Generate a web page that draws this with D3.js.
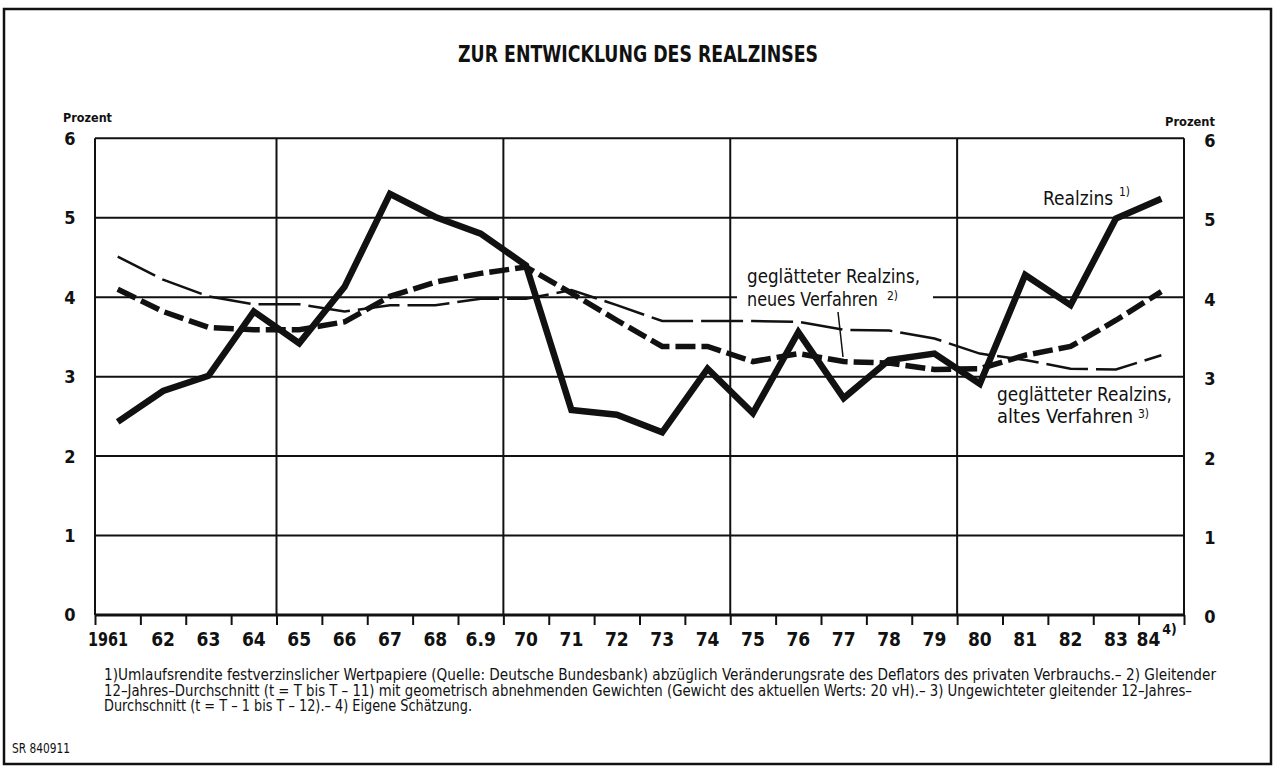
<!DOCTYPE html>
<html>
<head>
<meta charset="utf-8">
<script src="https://cdn.jsdelivr.net/npm/d3@7"></script>
<style>
  body { margin: 0; background: #fff; }
  svg { display: block; }
  text { font-family: "Liberation Sans Narrow", "DejaVu Sans Condensed", "Arial Narrow", sans-serif; fill: #111; }
</style>
</head>
<body>
<div id="chart"></div>
<script>
const years = [1961, 1962, 1963, 1964, 1965, 1966, 1967, 1968, 1969, 1970, 1971, 1972,
               1973, 1974, 1975, 1976, 1977, 1978, 1979, 1980, 1981, 1982, 1983, 1984];
const yearLabels = ["1961", "62", "63", "64", "65", "66", "67", "68", "6.9", "70", "71", "72",
                    "73", "74", "75", "76", "77", "78", "79", "80", "81", "82", "83", "84"];
const realzins = [2.43, 2.82, 3.01, 3.82, 3.42, 4.13, 5.30, 5.01, 4.80, 4.40, 2.58, 2.52,
                  2.30, 3.10, 2.54, 3.56, 2.73, 3.21, 3.29, 2.91, 4.28, 3.90, 4.99, 5.24];
const neuesVerfahren = [4.10, 3.82, 3.62, 3.59, 3.59, 3.69, 4.01, 4.19, 4.30, 4.38, 4.05, 3.71,
                        3.38, 3.38, 3.19, 3.29, 3.19, 3.17, 3.09, 3.10, 3.27, 3.38, 3.71, 4.07];
const altesVerfahren = [4.51, 4.22, 4.01, 3.91, 3.91, 3.82, 3.90, 3.90, 3.98, 3.98, 4.09, 3.90,
                        3.70, 3.70, 3.70, 3.69, 3.59, 3.58, 3.48, 3.29, 3.21, 3.10, 3.09, 3.27];
const yTicks = [0, 1, 2, 3, 4, 5, 6];
const gridYears = [1965, 1970, 1975, 1980];
const footnotes = [
  "1)Umlaufsrendite festverzinslicher Wertpapiere (Quelle: Deutsche Bundesbank) abzüglich Veränderungsrate des Deflators des privaten Verbrauchs.– 2) Gleitender",
  "12–Jahres–Durchschnitt (t = T bis T – 11) mit geometrisch abnehmenden Gewichten (Gewicht des aktuellen Werts: 20 vH).– 3) Ungewichteter gleitender 12–Jahres–",
  "Durchschnitt (t = T – 1 bis T – 12).– 4) Eigene Schätzung."
];

const W = 1274, H = 768;
const svg = d3.select("#chart").append("svg").attr("width", W).attr("height", H);

// squeeze or stretch a text to the width measured on the original
function fit(sel, w) {
  const l = sel.node().getComputedTextLength();
  if (Math.abs(l - w) > 1) sel.attr("textLength", w).attr("lengthAdjust", "spacingAndGlyphs");
  return sel;
}

svg.append("rect")
  .attr("x", 4).attr("y", 9).attr("width", 1267).attr("height", 755)
  .attr("fill", "none").attr("stroke", "#111").attr("stroke-width", 2.5);

fit(svg.append("text")
  .attr("x", 458).attr("y", 62)
  .style("font-size", "23px").style("font-weight", "bold")
  .text("ZUR ENTWICKLUNG DES REALZINSES"), 360);

const x = d3.scaleLinear().domain([1961, 1985]).range([95, 1184]);
const y = d3.scaleLinear().domain([0, 6]).range([615, 138.3]);
const mid = yr => x(yr + 0.5);

// grid
const grid = svg.append("g").attr("stroke", "#111").attr("stroke-width", 2);
grid.selectAll(".hg").data(yTicks.filter(d => d > 0)).enter().append("line")
  .attr("x1", x(1961)).attr("x2", x(1985))
  .attr("y1", d => y(d)).attr("y2", d => y(d));
grid.selectAll(".vg").data([1961, ...gridYears, 1985]).enter().append("line")
  .attr("x1", d => x(d)).attr("x2", d => x(d))
  .attr("y1", y(0)).attr("y2", y(6));

// x axis, ticks on year boundaries
const xAxis = d3.axisBottom(x)
  .tickValues([1961].concat(years.slice(1), [1985]))
  .tickSize(10).tickFormat("");
svg.append("g").attr("transform", `translate(0,${y(0)})`).call(xAxis)
  .call(g => g.select(".domain").attr("stroke", "#111").attr("stroke-width", 3).attr("d", `M${x(1961)},0H${x(1985)}`))
  .call(g => g.selectAll(".tick line").attr("stroke", "#111").attr("stroke-width", 2));

const xl = svg.append("g").style("font-size", "19px").style("font-weight", "bold");
years.forEach((yr, i) => {
  const t = xl.append("text").attr("y", 646).text(yearLabels[i]);
  if (i === 0) {
    t.attr("x", x(yr) - 7);
    fit(t, 40);
  } else if (i === years.length - 1) {
    t.attr("x", mid(yr) - 1).attr("text-anchor", "end");
    xl.append("text").attr("x", mid(yr) + 1).attr("y", 634)
      .style("font-size", "14px").text("4)");
  } else {
    t.attr("x", mid(yr)).attr("text-anchor", "middle");
  }
});

// y labels on both sides
const yl = svg.append("g").style("font-size", "18px").style("font-weight", "bold").attr("text-anchor", "middle");
yl.selectAll(".l").data(yTicks).enter().append("text")
  .attr("x", 70).attr("y", d => y(d)).attr("dy", "0.36em").text(d => d);
yl.selectAll(".r").data(yTicks).enter().append("text")
  .attr("x", 1210).attr("y", d => y(d) + 2).attr("dy", "0.36em").text(d => d);

fit(svg.append("text").attr("x", 63).attr("y", 122)
  .style("font-size", "13px").style("font-weight", "bold").text("Prozent"), 49);
fit(svg.append("text").attr("x", 1165).attr("y", 126)
  .style("font-size", "13px").style("font-weight", "bold").text("Prozent"), 50);

// white patch behind the label of the new method
svg.append("rect").attr("x", 737).attr("y", 266).attr("width", 196).attr("height", 46).attr("fill", "#fff");

const line = d3.line().x((d, i) => mid(years[i])).y(d => y(d));

svg.append("path").datum(altesVerfahren)
  .attr("d", line).attr("fill", "none").attr("stroke", "#111")
  .attr("stroke-width", 2.5).attr("stroke-dasharray", "42,8");
svg.append("path").datum(neuesVerfahren)
  .attr("d", line).attr("fill", "none").attr("stroke", "#111")
  .attr("stroke-width", 5.5).attr("stroke-dasharray", "20,6");
svg.append("path").datum(realzins)
  .attr("d", line).attr("fill", "none").attr("stroke", "#111")
  .attr("stroke-width", 6.5).attr("stroke-linejoin", "miter");

// series labels
const lab = svg.append("g").style("font-size", "19px");
const sup = (xx, yy, s) => lab.append("text").attr("x", xx).attr("y", yy).style("font-size", "12px").text(s);

fit(lab.append("text").attr("x", 1043).attr("y", 205).text("Realzins"), 70);
sup(1119, 196, "1)");

fit(lab.append("text").attr("x", 747).attr("y", 283).text("geglätteter Realzins,"), 173);
fit(lab.append("text").attr("x", 747).attr("y", 306).text("neues Verfahren"), 131);
sup(887, 300, "2)");
svg.append("line").attr("x1", 838).attr("y1", 312).attr("x2", 843).attr("y2", 357)
  .attr("stroke", "#111").attr("stroke-width", 1.5);

fit(lab.append("text").attr("x", 997).attr("y", 401).text("geglätteter Realzins,"), 175);
fit(lab.append("text").attr("x", 997).attr("y", 423).text("altes Verfahren"), 136);
sup(1138, 418, "3)");

// footnotes
const fn = svg.append("g").style("font-size", "15px");
const fnWidths = [1112, 1088, 368];
footnotes.forEach((f, i) => {
  fit(fn.append("text").attr("x", 104).attr("y", 680 + i * 15.5).text(f), fnWidths[i]);
});
fit(svg.append("text").attr("x", 12).attr("y", 753).style("font-size", "14px").text("SR 840911"), 58);
</script>
</body>
</html>
